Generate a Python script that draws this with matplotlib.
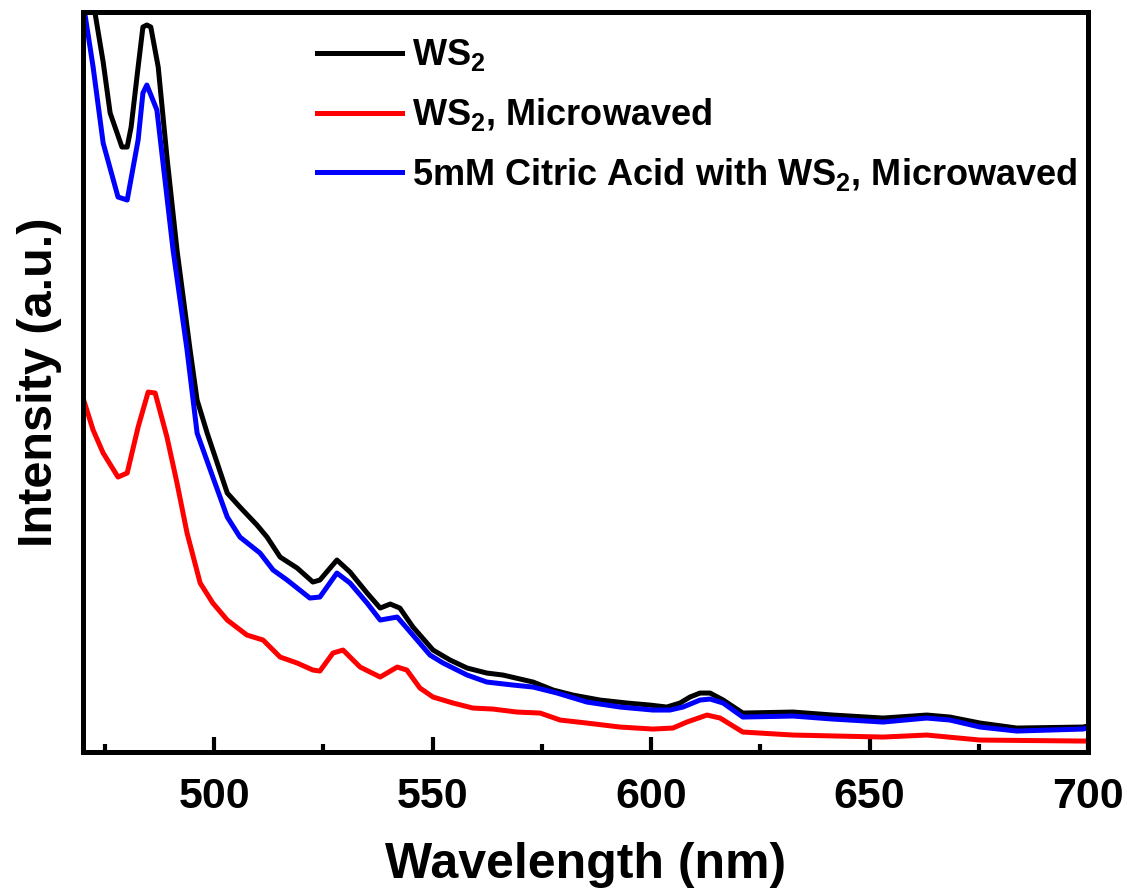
import numpy as np
import matplotlib
matplotlib.use('Agg')
import matplotlib.pyplot as plt

plt.rcParams['font.family'] = ['Liberation Sans', 'DejaVu Sans']
plt.rcParams['font.weight'] = 'bold'
plt.rcParams['mathtext.default'] = 'regular'

# WS2
ws2_x = [470.0, 472.7, 474.6, 476.2, 478.9, 480.1, 481.0, 482.6, 483.7, 484.6, 485.5, 487.2,
         489.2, 491.5, 494.5, 496.1, 498.4, 503.0, 505.9, 509.8, 512.1, 515.1, 519.0, 522.6,
         524.2, 528.1, 531.1, 535.0, 538.0, 540.3, 542.5, 545.5, 550.1, 554.0, 557.9, 562.4,
         566.1, 573.0, 577.6, 582.1, 588.3, 594.5, 599.7, 603.6, 606.6, 608.9, 611.2, 613.5,
         616.5, 621.0, 632.5, 641.6, 653.1, 663.1, 668.4, 675.3, 683.7, 698.8, 700.0]
ws2_y = [800, 740, 690, 639, 605, 605, 625, 685, 725, 727, 725, 685,
         595, 502, 402, 352, 319, 259, 245, 227, 215, 195, 184, 170,
         172, 192, 180, 159, 144, 148, 144, 125, 102, 92, 84, 79,
         77, 70, 62, 57, 52, 49, 47, 45, 49, 55, 59, 59,
         52, 39, 40, 37, 34, 37, 35, 29, 24, 25, 26]

# WS2, Microwaved
mw_x = [470.0, 472.3, 474.6, 478.0, 480.1, 482.6, 484.9, 486.5, 489.2, 491.5, 493.8, 496.8,
        499.7, 503.0, 507.5, 511.2, 515.1, 519.0, 522.6, 524.2, 527.2, 529.5, 533.4, 538.0,
        541.9, 544.1, 547.1, 550.1, 554.7, 559.2, 563.8, 569.3, 574.6, 579.2, 585.3, 592.9,
        600.4, 605.0, 608.2, 612.8, 615.8, 621.0, 632.5, 653.1, 663.1, 675.3, 698.8, 700.0]
mw_y = [354, 322, 299, 275, 279, 325, 360, 359, 315, 269, 219, 169,
        149, 132, 117, 112, 95, 89, 82, 81, 99, 102, 85, 75,
        85, 82, 64, 55, 49, 44, 43, 40, 39, 32, 29, 25,
        23, 24, 30, 37, 34, 20, 17, 15, 17, 12, 11, 11]

# 5mM Citric Acid with WS2, Microwaved
ca_x = [470.0, 472.3, 474.6, 478.0, 480.1, 482.6, 483.7, 484.6, 486.9, 490.6, 493.8, 496.1,
        499.7, 503.0, 505.9, 510.5, 513.5, 516.7, 521.9, 524.2, 528.1, 531.1, 535.0, 538.0,
        541.9, 544.1, 549.4, 552.4, 557.9, 562.4, 568.4, 573.0, 578.5, 585.3, 592.9, 600.4,
        604.3, 607.3, 611.2, 613.5, 616.5, 621.0, 632.5, 641.6, 653.1, 663.1, 668.4, 675.3,
        683.7, 698.8, 700.0]
ca_y = [750, 685, 609, 555, 552, 612, 659, 667, 642, 502, 402, 319,
        275, 235, 215, 199, 182, 172, 154, 155, 179, 169, 149, 132,
        135, 124, 97, 89, 77, 70, 67, 65, 59, 50, 45, 42,
        42, 45, 52, 53, 49, 35, 36, 33, 30, 34, 32, 25,
        21, 23, 24]

fig = plt.figure(figsize=(11.27, 8.9), dpi=100)
ax = fig.add_axes([0.0737, 0.155, 0.8917, 0.8315])

ax.plot(ws2_x, ws2_y, color='black', linewidth=3.6, label='WS$_2$')
ax.plot(mw_x, mw_y, color='red', linewidth=3.6, label='WS$_2$, Microwaved')
ax.plot(ca_x, ca_y, color='blue', linewidth=3.6, label='5mM Citric Acid with WS$_2$, Microwaved')

ax.set_xlim(470, 700)
ax.set_ylim(0, 740)
ax.set_xticks([500, 550, 600, 650, 700])
ax.set_xticks([475, 525, 575, 625, 675], minor=True)
ax.set_yticks([])
ax.tick_params(axis='x', which='major', direction='in', length=11, width=3, labelsize=31, pad=18)
ax.tick_params(axis='x', which='minor', direction='in', length=6, width=3)
for s in ax.spines.values():
    s.set_linewidth(3.6)

ax.set_xlabel('Wavelength (nm)', fontsize=36, fontweight='bold', labelpad=18)
ax.set_ylabel('Intensity (a.u.)', fontsize=35, fontweight='bold', labelpad=15)

ax.legend(loc='upper left', bbox_to_anchor=(0.2005, 1.0095), frameon=False, fontsize=26,
          handlelength=2.35, handletextpad=0.28, labelspacing=0.63)

fig.savefig('out.png', dpi=100)
